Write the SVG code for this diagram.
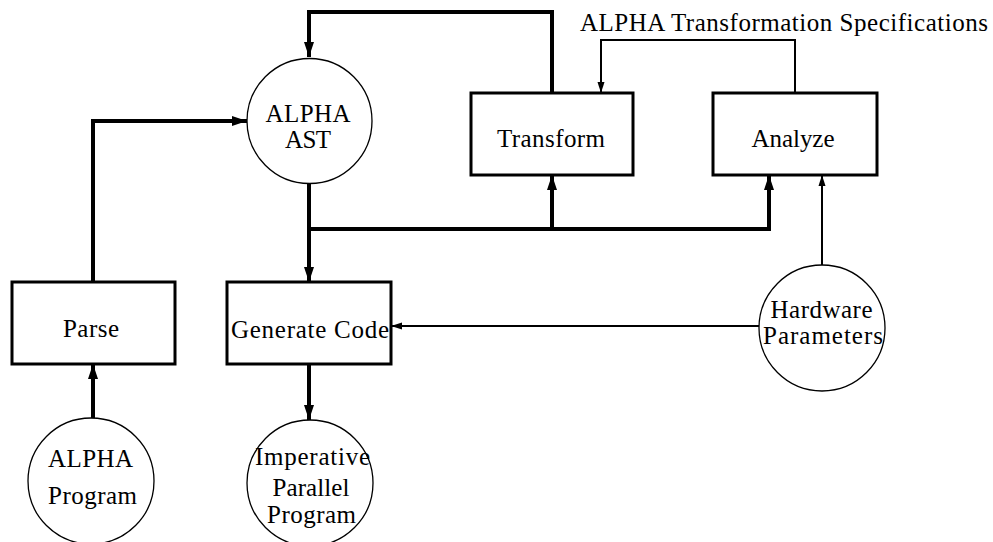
<svg xmlns="http://www.w3.org/2000/svg" width="993" height="542" viewBox="0 0 993 542">
<style>
text{font-family:"Liberation Serif","Times New Roman",serif;font-size:25px;fill:#000;text-anchor:middle}
.box{fill:#fff;stroke:#000;stroke-width:3}
.circ{fill:#fff;stroke:#000;stroke-width:1.3}
.thick{fill:none;stroke:#000;stroke-width:4}
.thin{fill:none;stroke:#000;stroke-width:2}
</style>
<defs>
<marker id="ah" markerUnits="userSpaceOnUse" markerWidth="16" markerHeight="12" refX="15" refY="6" orient="auto"><path d="M0,1 L15,6 L0,11 Z" fill="#000"/></marker>
<marker id="as" markerUnits="userSpaceOnUse" markerWidth="12" markerHeight="8" refX="11" refY="4" orient="auto"><path d="M0,0.5 L11,4 L0,7.5 Z" fill="#000"/></marker>
</defs>
<g id="connectors">
<path class="thick" d="M552,93 V12 H309 V57" marker-end="url(#ah)"/>
<path class="thick" d="M93,282 V121 H247" marker-end="url(#ah)"/>
<path class="thick" d="M309,184 V282" marker-end="url(#ah)"/>
<path class="thick" d="M309,229 H552 V175" marker-end="url(#ah)"/>
<path class="thick" d="M552,229 H769 V175" marker-end="url(#ah)"/>
<path class="thick" d="M93,418 V364" marker-end="url(#ah)"/>
<path class="thick" d="M309,364 V420" marker-end="url(#ah)"/>
<path class="thin" d="M795,93 V40 H601 V93" marker-end="url(#as)"/>
<path class="thin" d="M822,265 V175" marker-end="url(#as)"/>
<path class="thin" d="M759,326 H391" marker-end="url(#as)"/>
</g>
<g id="alpha-ast"><circle class="circ" cx="309.5" cy="121" r="62.5"/><text x="308" y="122" textLength="85" lengthAdjust="spacing">ALPHA</text><text x="308" y="148" textLength="46" lengthAdjust="spacing">AST</text></g>
<g id="transform"><rect class="box" x="471" y="93" width="162" height="82"/><text x="551" y="147" textLength="108" lengthAdjust="spacing">Transform</text></g>
<g id="analyze"><rect class="box" x="713" y="93" width="164" height="82"/><text x="793" y="147" textLength="83" lengthAdjust="spacing">Analyze</text></g>
<text id="spec-label" x="784" y="31" textLength="408" lengthAdjust="spacing">ALPHA Transformation Specifications</text>
<g id="parse"><rect class="box" x="12" y="282" width="163" height="82"/><text x="91" y="337" textLength="56" lengthAdjust="spacing">Parse</text></g>
<g id="generate-code"><rect class="box" x="227" y="282" width="164" height="82"/><text x="310" y="338" textLength="158" lengthAdjust="spacing">Generate Code</text></g>
<g id="hardware"><circle class="circ" cx="822" cy="328" r="63"/><text x="821.5" y="318" textLength="102" lengthAdjust="spacing">Hardware</text><text x="823" y="344" textLength="120" lengthAdjust="spacing">Parameters</text></g>
<g id="alpha-program"><circle class="circ" cx="91" cy="481" r="63"/><text x="90.5" y="467" textLength="85" lengthAdjust="spacing">ALPHA</text><text x="92.5" y="504" textLength="89" lengthAdjust="spacing">Program</text></g>
<g id="imperative"><circle class="circ" cx="310" cy="483" r="63"/><text x="312.5" y="465" textLength="115" lengthAdjust="spacing">Imperative</text><text x="311" y="496" textLength="77" lengthAdjust="spacing">Parallel</text><text x="311.5" y="523" textLength="89" lengthAdjust="spacing">Program</text></g>
</svg>
